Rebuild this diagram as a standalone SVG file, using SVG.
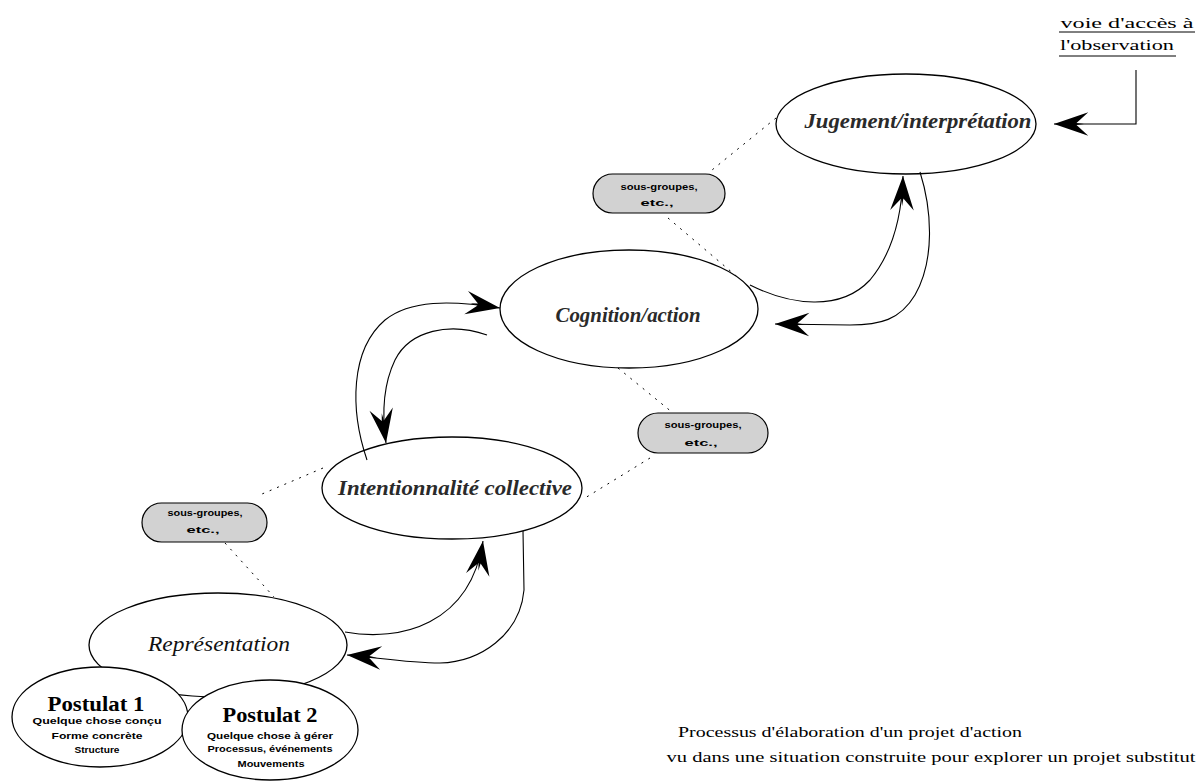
<svg xmlns="http://www.w3.org/2000/svg" width="1202" height="781" viewBox="0 0 1202 781">
<defs>
<style>
.node{fill:#fff;stroke:#000;stroke-width:1.3}
.pill{fill:#d2d2d2;stroke:#000;stroke-width:1.2}
.lbl{font-family:"Liberation Serif",serif;font-style:italic;font-weight:bold;font-size:20px;fill:#2a2a2a;text-anchor:middle}
.rep{font-family:"Liberation Serif",serif;font-style:italic;font-size:20px;fill:#111;text-anchor:middle}
.post{font-family:"Liberation Serif",serif;font-weight:bold;font-size:20px;fill:#000;text-anchor:middle}
.small{font-family:"Liberation Sans",sans-serif;font-weight:bold;font-size:9px;fill:#000;text-anchor:middle}
.ptxt{font-family:"Liberation Sans",sans-serif;font-weight:bold;font-size:8.5px;fill:#000;text-anchor:middle}
.cap{font-family:"Liberation Serif",serif;font-size:15px;fill:#000;text-anchor:middle}
.arc{fill:none;stroke:#000;stroke-width:1.1}
.dot{fill:none;stroke:#000;stroke-width:1;stroke-dasharray:2 6}
</style>
<marker id="ah" markerUnits="userSpaceOnUse" markerWidth="40" markerHeight="30" viewBox="-34 -14 36 28" refX="0" refY="0" orient="auto">
<path d="M0,0 L-32,-11 L-21,-1 L-28,0 L-21,1 L-32,11 Z" fill="#000"/>
</marker>
</defs>
<rect width="1202" height="781" fill="#fff"/>

<g id="dotted-axis">
<line class="dot" x1="776" y1="118" x2="712" y2="170"/>
<line class="dot" x1="668" y1="218" x2="748" y2="286"/>
<line class="dot" x1="618" y1="368" x2="673" y2="413"/>
<line class="dot" x1="650" y1="458" x2="585" y2="498"/>
<line class="dot" x1="323" y1="468" x2="262" y2="494"/>
<line class="dot" x1="225" y1="543" x2="274" y2="597"/>
</g>

<g id="node-jugement">
<ellipse class="node" cx="906" cy="124" rx="130" ry="50"/>
<text class="lbl" x="918" y="128" textLength="227" lengthAdjust="spacingAndGlyphs">Jugement/interprétation</text>
</g>

<g id="node-cognition">
<ellipse class="node" cx="629" cy="309" rx="129" ry="59"/>
<text class="lbl" x="628" y="322" textLength="145" lengthAdjust="spacingAndGlyphs">Cognition/action</text>
</g>

<g id="node-intentionnalite">
<ellipse class="node" cx="452" cy="488" rx="130" ry="51"/>
<text class="lbl" x="455" y="495" textLength="234" lengthAdjust="spacingAndGlyphs">Intentionnalité collective</text>
</g>

<g id="node-representation">
<ellipse class="node" cx="218" cy="645" rx="129" ry="52"/>
<text class="rep" x="219" y="651" textLength="142" lengthAdjust="spacingAndGlyphs">Représentation</text>
</g>

<g id="node-postulat1">
<ellipse class="node" cx="100" cy="717" rx="88" ry="50"/>
<text class="post" x="96" y="711" textLength="97" lengthAdjust="spacingAndGlyphs">Postulat 1</text>
<text class="small" x="97" y="724" textLength="129" lengthAdjust="spacingAndGlyphs">Quelque chose conçu</text>
<text class="small" x="97" y="739" textLength="91" lengthAdjust="spacingAndGlyphs">Forme concrète</text>
<text class="small" x="97" y="753" textLength="45" lengthAdjust="spacingAndGlyphs">Structure</text>
</g>

<g id="node-postulat2">
<ellipse class="node" cx="270" cy="730" rx="88" ry="50"/>
<text class="post" x="270" y="722" textLength="95" lengthAdjust="spacingAndGlyphs">Postulat 2</text>
<text class="small" x="270" y="739" textLength="126" lengthAdjust="spacingAndGlyphs">Quelque chose à gérer</text>
<text class="small" x="270" y="752" textLength="125" lengthAdjust="spacingAndGlyphs">Processus, événements</text>
<text class="small" x="271" y="767" textLength="67" lengthAdjust="spacingAndGlyphs">Mouvements</text>
</g>

<g id="node-pill1">
<rect class="pill" x="593" y="174" width="132" height="39" rx="19.5"/>
<text class="ptxt" x="659" y="190" textLength="77" lengthAdjust="spacingAndGlyphs">sous-groupes,</text>
<text class="ptxt" x="657" y="206" textLength="33" lengthAdjust="spacingAndGlyphs">etc.,</text>
</g>

<g id="node-pill2">
<rect class="pill" x="638" y="413" width="130" height="40" rx="20"/>
<text class="ptxt" x="703" y="428" textLength="77" lengthAdjust="spacingAndGlyphs">sous-groupes,</text>
<text class="ptxt" x="701" y="446" textLength="33" lengthAdjust="spacingAndGlyphs">etc.,</text>
</g>

<g id="node-pill3">
<rect class="pill" x="142" y="503" width="125" height="39" rx="19.5"/>
<text class="ptxt" x="205" y="516" textLength="75" lengthAdjust="spacingAndGlyphs">sous-groupes,</text>
<text class="ptxt" x="203" y="533" textLength="33" lengthAdjust="spacingAndGlyphs">etc.,</text>
</g>

<g id="connectors">
<path class="arc" d="M345,632 C400,642 470,625 483,541" marker-end="url(#ah)"/>
<path class="arc" d="M523,531 L524,590 C520,635 480,662 440,663 C410,663 380,658 347,655" marker-end="url(#ah)"/>
<path class="arc" d="M367,460 C350,410 350,350 385,320 C410,300 450,300 500,308" marker-end="url(#ah)"/>
<path class="arc" d="M487,335 C450,322 410,330 395,360 C383,385 382,415 386,443" marker-end="url(#ah)"/>
<path class="arc" d="M750,285 C790,305 840,312 870,280 C895,250 902,210 903,176" marker-end="url(#ah)"/>
<path class="arc" d="M920,172 C932,210 935,260 915,295 C900,320 880,325 850,325 L775,324" marker-end="url(#ah)"/>
<path class="arc" d="M1136,70 L1136,124 L1054,124" marker-end="url(#ah)"/>
</g>

<g id="note-observation">
<text class="cap" x="1127" y="28" textLength="133" lengthAdjust="spacingAndGlyphs">voie d'accès à</text>
<line x1="1059" y1="32" x2="1195" y2="32" stroke="#000" stroke-width="1"/>
<text class="cap" x="1117" y="50" textLength="114" lengthAdjust="spacingAndGlyphs">l'observation</text>
<line x1="1059" y1="56" x2="1176" y2="56" stroke="#000" stroke-width="1"/>
</g>

<g id="caption">
<text class="cap" x="850" y="737" textLength="344" lengthAdjust="spacingAndGlyphs">Processus d'élaboration d'un projet d'action</text>
<text class="cap" x="931" y="762" textLength="529" lengthAdjust="spacingAndGlyphs">vu dans une situation construite pour explorer un projet substitut</text>
</g>
</svg>
